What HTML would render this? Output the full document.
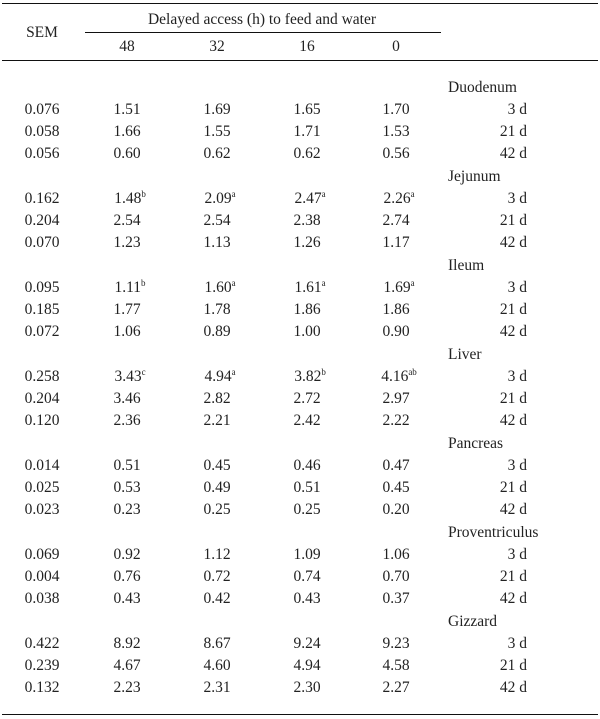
<!DOCTYPE html>
<html><head><meta charset="utf-8"><style>
body{margin:0;width:600px;height:719px;background:#fff;position:relative;overflow:hidden;font-family:"Liberation Serif",serif;color:#222;font-size:15.5px}
.t{position:absolute;transform:translate(-50%,-50%);white-space:nowrap}
.l{position:absolute;transform:translateY(-50%);white-space:nowrap}
.r{position:absolute;transform:translate(-100%,-50%);white-space:nowrap}
.line{position:absolute;height:1.3px;background:#111}
sup{font-size:9px;vertical-align:6px;line-height:0}
</style></head><body>
<div class="line" style="left:2px;width:596px;top:3px"></div>
<div class="line" style="left:85px;width:356px;top:32px"></div>
<div class="line" style="left:2px;width:596px;top:60px"></div>
<div class="line" style="left:2px;width:596px;top:714px"></div>
<div class="t" style="left:42px;top:33px">SEM</div>
<div class="t" style="left:262px;top:20px">Delayed access (h) to feed and water</div>
<div class="t" style="left:127px;top:47px">48</div>
<div class="t" style="left:217px;top:47px">32</div>
<div class="t" style="left:307px;top:47px">16</div>
<div class="t" style="left:396px;top:47px">0</div>
<div id="body"></div>
<script>
const groups=["Duodenum","Jejunum","Ileum","Liver","Pancreas","Proventriculus","Gizzard"];
const days=["3 d","21 d","42 d"];
const sem=[["0.076","0.058","0.056"],["0.162","0.204","0.070"],["0.095","0.185","0.072"],["0.258","0.204","0.120"],["0.014","0.025","0.023"],["0.069","0.004","0.038"],["0.422","0.239","0.132"]];
const vals=[
[["1.51","1.69","1.65","1.70"],["1.66","1.55","1.71","1.53"],["0.60","0.62","0.62","0.56"]],
[["1.48|b","2.09|a","2.47|a","2.26|a"],["2.54","2.54","2.38","2.74"],["1.23","1.13","1.26","1.17"]],
[["1.11|b","1.60|a","1.61|a","1.69|a"],["1.77","1.78","1.86","1.86"],["1.06","0.89","1.00","0.90"]],
[["3.43|c","4.94|a","3.82|b","4.16|ab"],["3.46","2.82","2.72","2.97"],["2.36","2.21","2.42","2.22"]],
[["0.51","0.45","0.46","0.47"],["0.53","0.49","0.51","0.45"],["0.23","0.25","0.25","0.20"]],
[["0.92","1.12","1.09","1.06"],["0.76","0.72","0.74","0.70"],["0.43","0.42","0.43","0.37"]],
[["8.92","8.67","9.24","9.23"],["4.67","4.60","4.94","4.58"],["2.23","2.31","2.30","2.27"]]];
const colX=[127,217,307,396];
const b=document.getElementById('body');
function add(cls,x,y,html,name){const d=document.createElement('div');d.className=cls;d.style.left=x+'px';d.style.top=y+'px';d.innerHTML=html;


b.appendChild(d);}
groups.forEach((g,gi)=>{const y0=87.5+gi*89;
add('l',448,y0,g,'group-label');
for(let r=0;r<3;r++){const y=y0+22.3*(r+1);
add('t',42,y,sem[gi][r],'sem-value');
add('r',527,y,days[r],'day-label');
vals[gi][r].forEach((v,ci)=>{const p=v.split('|');add('t',colX[ci]+(p[1]?3:0),y,p[0]+(p[1]?'<sup>'+p[1]+'</sup>':''),'cell-value');});
}});
</script>
</body></html>
